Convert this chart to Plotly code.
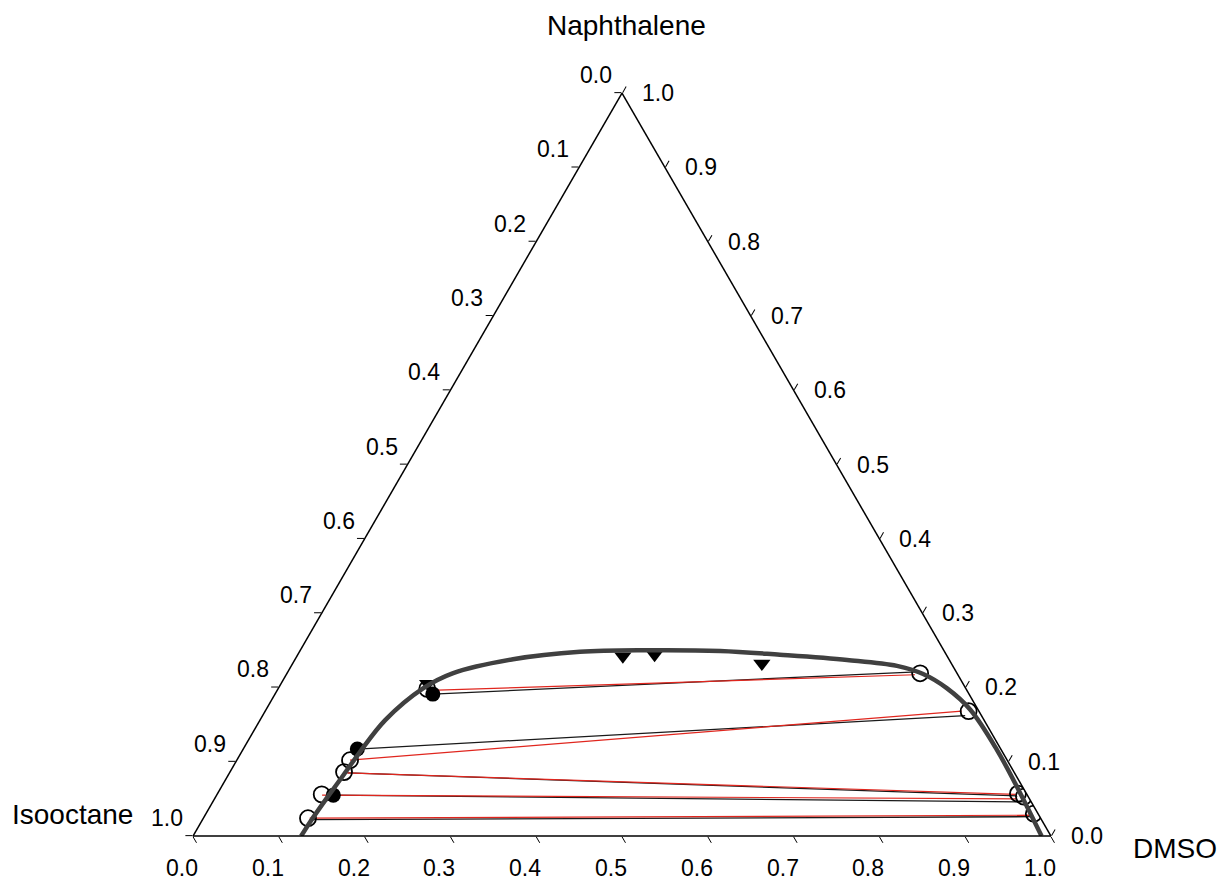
import plotly.graph_objects as go

# ---- data: mole fractions (isooctane, naphthalene, DMSO) ----
tick_vals = [0.0, 0.1, 0.2, 0.3, 0.4, 0.5, 0.6, 0.7, 0.8, 0.9, 1.0]
tick_labels = ["0.0", "0.1", "0.2", "0.3", "0.4", "0.5", "0.6", "0.7", "0.8", "0.9", "1.0"]

# binodal curve
curve_iso = [0.874, 0.854, 0.822, 0.787, 0.749, 0.698, 0.632, 0.588, 0.508, 0.425, 0.346,
             0.261, 0.194, 0.119, 0.065, 0.040, 0.022, 0.009, 0.005, 0.007, 0.011]
curve_naph = [0.000, 0.019, 0.048, 0.079, 0.113, 0.156, 0.199, 0.219, 0.238, 0.248, 0.250,
              0.249, 0.244, 0.237, 0.229, 0.218, 0.199, 0.170, 0.116, 0.058, 0.000]
curve_dmso = [0.126, 0.127, 0.130, 0.134, 0.138, 0.146, 0.169, 0.193, 0.254, 0.327, 0.404,
              0.490, 0.562, 0.644, 0.706, 0.742, 0.779, 0.821, 0.879, 0.935, 0.989]

# experimental tie lines: isooctane-rich end / DMSO-rich end
exp_raff_iso = [0.625, 0.750, 0.777, 0.809, 0.853]
exp_raff_naph = [0.191, 0.117, 0.085, 0.055, 0.022]
exp_raff_dmso = [0.184, 0.133, 0.138, 0.136, 0.125]
exp_ext_iso = [0.046, 0.019, 0.012, 0.011, 0.009]
exp_ext_naph = [0.221, 0.162, 0.054, 0.046, 0.026]
exp_ext_dmso = [0.733, 0.819, 0.934, 0.943, 0.965]

# calculated tie lines
cal_raff_iso = [0.626, 0.766, 0.779, 0.822, 0.852]
cal_raff_naph = [0.196, 0.102, 0.085, 0.055, 0.024]
cal_raff_dmso = [0.178, 0.132, 0.136, 0.123, 0.124]
cal_ext_iso = [0.050, 0.020, 0.013, 0.014, 0.008]
cal_ext_naph = [0.217, 0.168, 0.056, 0.050, 0.028]
cal_ext_dmso = [0.733, 0.812, 0.931, 0.936, 0.964]

# filled circles
fill_iso = [0.625, 0.750, 0.809]
fill_naph = [0.191, 0.117, 0.055]
fill_dmso = [0.184, 0.133, 0.136]

# open circles
open_iso = [0.628, 0.766, 0.781, 0.822, 0.854, 0.043, 0.012, 0.010, 0.005, 0.005]
open_naph = [0.198, 0.102, 0.086, 0.056, 0.024, 0.219, 0.168, 0.057, 0.053, 0.030]
open_dmso = [0.174, 0.132, 0.133, 0.122, 0.122, 0.738, 0.820, 0.933, 0.942, 0.965]

# cloud points
tri_iso = [0.624, 0.378, 0.340, 0.221]
tri_naph = [0.205, 0.242, 0.244, 0.232]
tri_dmso = [0.171, 0.380, 0.416, 0.547]

FONT = "Liberation Sans, Arial, sans-serif"


def segments(i0, n0, d0, i1, n1, d1):
    """Join end points pairwise into one broken polyline."""
    a, b, c = [], [], []
    for k in range(len(i0)):
        a += [n0[k], n1[k], None]
        b += [i0[k], i1[k], None]
        c += [d0[k], d1[k], None]
    return a, b, c


def to_paper(naph, dmso):
    """Position on the triangle in paper units (triangle fills the plot area)."""
    return dmso + naph / 2.0, naph


fig = go.Figure()

ea, eb, ec = segments(exp_raff_iso, exp_raff_naph, exp_raff_dmso,
                      exp_ext_iso, exp_ext_naph, exp_ext_dmso)
fig.add_trace(go.Scatterternary(a=ea, b=eb, c=ec, mode="lines",
                                line=dict(color="#1a1a1a", width=1.3),
                                connectgaps=False, hoverinfo="skip"))

ca, cb, cc = segments(cal_raff_iso, cal_raff_naph, cal_raff_dmso,
                      cal_ext_iso, cal_ext_naph, cal_ext_dmso)
fig.add_trace(go.Scatterternary(a=ca, b=cb, c=cc, mode="lines",
                                line=dict(color="#e0261e", width=1.2),
                                connectgaps=False, hoverinfo="skip"))

fig.add_trace(go.Scatterternary(a=tri_naph, b=tri_iso, c=tri_dmso, mode="markers",
                                marker=dict(symbol="triangle-down", size=15, color="black",
                                            line=dict(width=0))))
fig.add_trace(go.Scatterternary(a=fill_naph, b=fill_iso, c=fill_dmso, mode="markers",
                                marker=dict(symbol="circle", size=15, color="black",
                                            line=dict(width=0))))
fig.add_trace(go.Scatterternary(a=open_naph, b=open_iso, c=open_dmso, mode="markers",
                                marker=dict(symbol="circle-open", size=16, color="black",
                                            line=dict(width=1.8))))

fig.add_trace(go.Scatterternary(a=curve_naph, b=curve_iso, c=curve_dmso, mode="lines",
                                line=dict(color="#404040", width=4.5, shape="spline",
                                          smoothing=1.0),
                                hoverinfo="skip"))

axis_common = dict(
    tickmode="array", tickvals=tick_vals, showticklabels=False,
    ticks="outside", ticklen=7, tickwidth=1.3, tickcolor="black",
    linecolor="black", linewidth=1.5, showgrid=False,
    title=dict(text=""), min=0,
)

fig.update_layout(
    width=1220, height=882,
    margin=dict(l=193, r=169, t=93, b=46),
    paper_bgcolor="white",
    showlegend=False,
    font=dict(family=FONT, size=23, color="black"),
    ternary=dict(
        sum=1,
        bgcolor="white",
        aaxis=axis_common,
        baxis=axis_common,
        caxis=axis_common,
    ),
)

# edge scale labels: isooctane on the left edge, DMSO along the bottom,
# naphthalene on the right edge
tick_font = dict(family=FONT, size=23, color="black")
for v, lab in zip(tick_vals, tick_labels):
    for (naph, dmso), dx, dy in [((1.0 - v, 0.0), -26, 18),
                                 ((0.0, v), -11, -32),
                                 ((v, 1.0 - v), 36, 0)]:
        x, y = to_paper(naph, dmso)
        fig.add_annotation(text=lab, x=x, y=y, xref="paper", yref="paper",
                           xshift=dx, yshift=dy, xanchor="center", yanchor="middle",
                           showarrow=False, font=tick_font)

title_font = dict(family=FONT, size=28, color="black")
for text, x, y in [("Naphthalene", 0.5047, 1.0902),
                   ("Isooctane", -0.141, 0.0283),
                   ("DMSO", 1.1445, -0.0162)]:
    fig.add_annotation(text=text, x=x, y=y, xref="paper", yref="paper",
                       xanchor="center", yanchor="middle", showarrow=False,
                       font=title_font)

fig.write_html("out.html")
